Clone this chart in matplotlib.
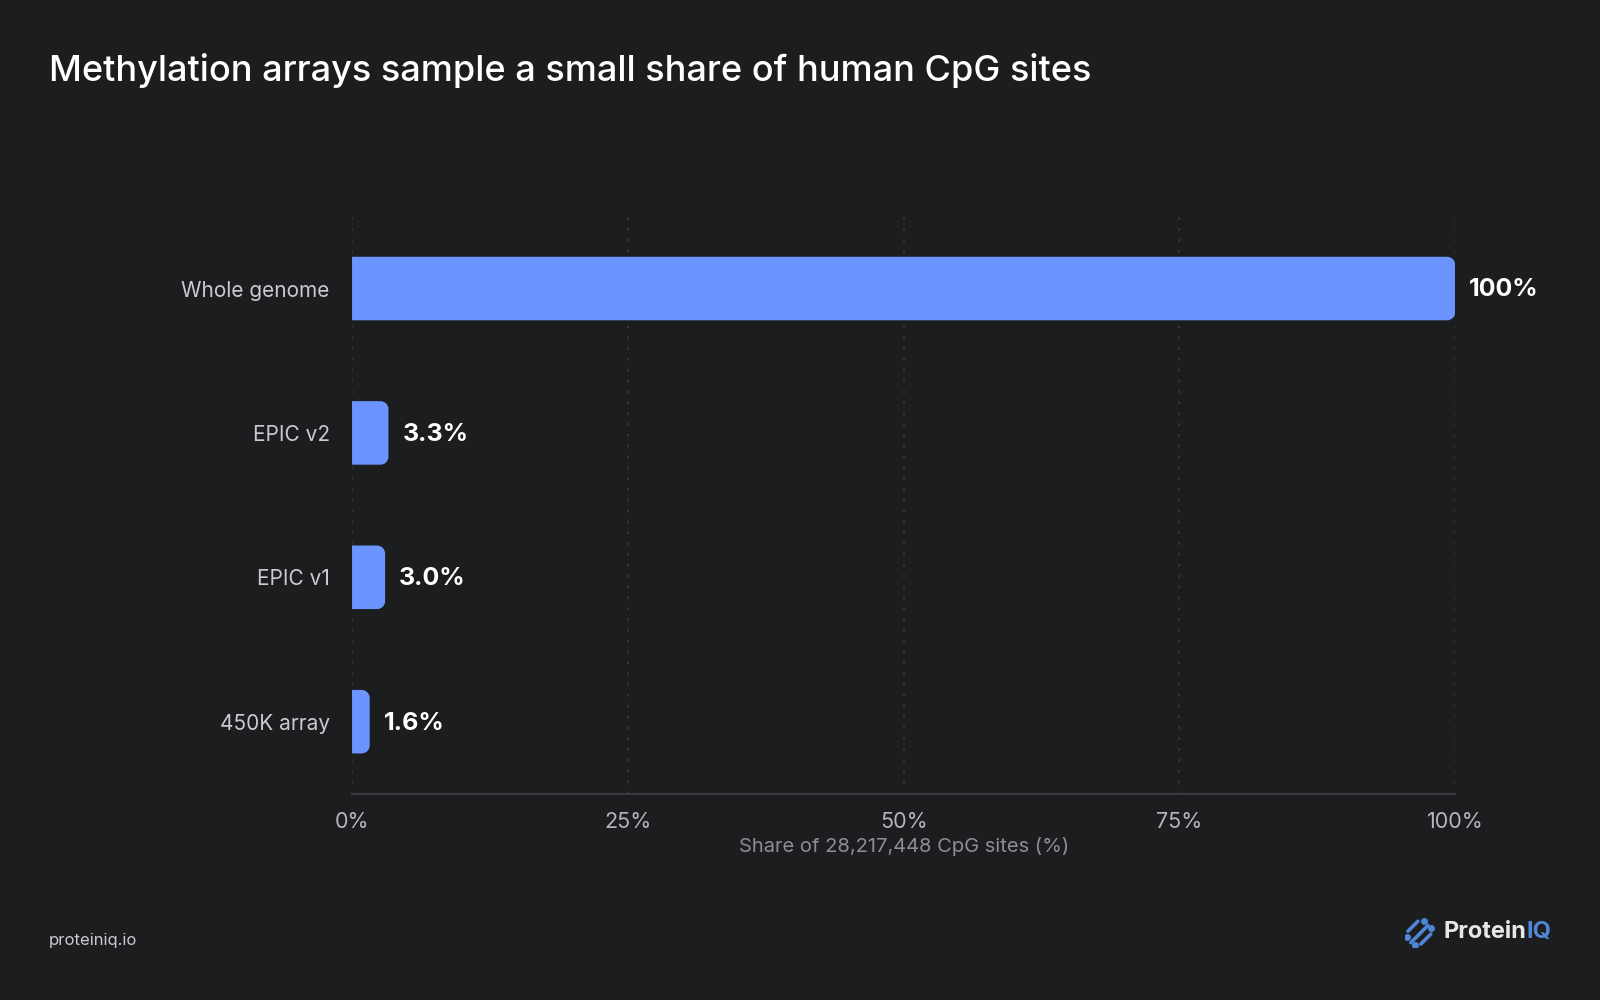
import matplotlib
matplotlib.use("Agg")
import matplotlib.pyplot as plt
from matplotlib.path import Path
from matplotlib.patches import PathPatch
import numpy as np

categories = ["Whole genome", "EPIC v2", "EPIC v1", "450K array"]
values = [100.0, 3.3, 3.0, 1.6]
value_labels = ["100%", "3.3%", "3.0%", "1.6%"]
xticks = [0, 25, 50, 75, 100]
xtick_labels = ["0%", "25%", "50%", "75%", "100%"]
title = "Methylation arrays sample a small share of human CpG sites"
xlabel = "Share of 28,217,448 CpG sites (%)"

BG = "#1c1d1f"
BAR = "#6b94fe"
W, H = 1568.0, 980.0

plt.rcParams['font.family'] = ['Inter', 'DejaVu Sans']

fig = plt.figure(figsize=(16, 10), dpi=100, facecolor=BG)

def fx(x):
    return x / W

def fy(y):
    return 1 - y / H

ax = fig.add_axes([fx(345), fy(778), fx(1426) - fx(345), fy(212) - fy(778)])
ax.set_facecolor(BG)
ax.set_xlim(0, 100)
ax.set_ylim(len(categories) - 0.5, -0.5)

for s in ["top", "right", "left"]:
    ax.spines[s].set_visible(False)
ax.spines["bottom"].set_color("#3a3b3e")
ax.spines["bottom"].set_linewidth(1.5)

ax.set_xticks(xticks)
ax.set_xticklabels(xtick_labels)
ax.tick_params(axis="x", length=0, pad=13, labelsize=15.5, labelcolor="#b4b6ba")
ax.set_yticks(range(len(categories)))
ax.set_yticklabels(categories)
ax.tick_params(axis="y", length=0, pad=16, labelsize=15, labelcolor="#c9cbcf")
ax.xaxis.grid(True, color="#3a3b3e", linestyle=(0, (1.5, 5)), linewidth=1.2)
ax.set_axisbelow(True)

# bars with rounded right corners
fig.canvas.draw()
sx = ax.transData.transform((1, 0))[0] - ax.transData.transform((0, 0))[0]
sy = abs(ax.transData.transform((0, 1))[1] - ax.transData.transform((0, 0))[1])
r_px = 8.0
bh = 0.44
for i, v in enumerate(values):
    rx = min(r_px / sx, v / 2)
    ry = r_px / sy
    y0, y1 = i - bh / 2, i + bh / 2
    k = 0.5523
    verts = [
        (0, y0), (v - rx, y0),
        (v - rx + k * rx, y0), (v, y0 + ry - k * ry), (v, y0 + ry),
        (v, y1 - ry),
        (v, y1 - ry + k * ry), (v - rx + k * rx, y1), (v - rx, y1),
        (0, y1), (0, y0),
    ]
    codes = [Path.MOVETO, Path.LINETO,
             Path.CURVE4, Path.CURVE4, Path.CURVE4,
             Path.LINETO,
             Path.CURVE4, Path.CURVE4, Path.CURVE4,
             Path.LINETO, Path.CLOSEPOLY]
    ax.add_patch(PathPatch(Path(verts, codes), facecolor=BAR, edgecolor="none", zorder=3))
    ax.annotate(value_labels[i], xy=(v, i), xytext=(10, -1), textcoords="offset points",
                va="center", ha="left", fontsize=18, fontweight="bold", color="#ffffff")

ax.set_xlabel(xlabel, fontsize=14.5, color="#8c8e93", labelpad=4)

fig.text(fx(48), fy(69), title, fontsize=26, fontweight="medium", color="#ffffff",
         ha="left", va="center")
fig.text(fx(48), fy(922), "proteiniq.io", fontsize=12, color="#c9cbcf", ha="left", va="center")

# logo
iq_t = fig.text(fx(1520), fy(913), "IQ", fontsize=17, fontweight="bold", color="#4f86d8",
                ha="right", va="center")
fig.canvas.draw()
iq = iq_t.get_window_extent(renderer=fig.canvas.get_renderer())
fig.text(iq.x0 / fig.bbox.width, fy(913), "Protein", fontsize=17, fontweight="bold",
         color="#e6e7e9", ha="right", va="center")
lax = fig.add_axes([fx(1377), fy(928), fx(28), fy(900) - fy(928)])
lax.set_xlim(0, 10)
lax.set_ylim(0, 10)
lax.axis("off")
blue = "#4f86d8"
for (x0, y0, x1, y1) in [(1.0, 5.5, 4.5, 9.0), (2.0, 1.5, 8.0, 7.5), (5.5, 1.0, 9.0, 4.5)]:
    lax.plot([x0, x1], [y0, y1], color=blue, linewidth=2.6, solid_capstyle="round")
for (x, y) in [(6.5, 9.0), (0.8, 3.5), (9.2, 6.5), (3.5, 0.8)]:
    lax.plot([x], [y], "o", color=blue, markersize=4)

fig.savefig("out.png", dpi=100, facecolor=BG)
